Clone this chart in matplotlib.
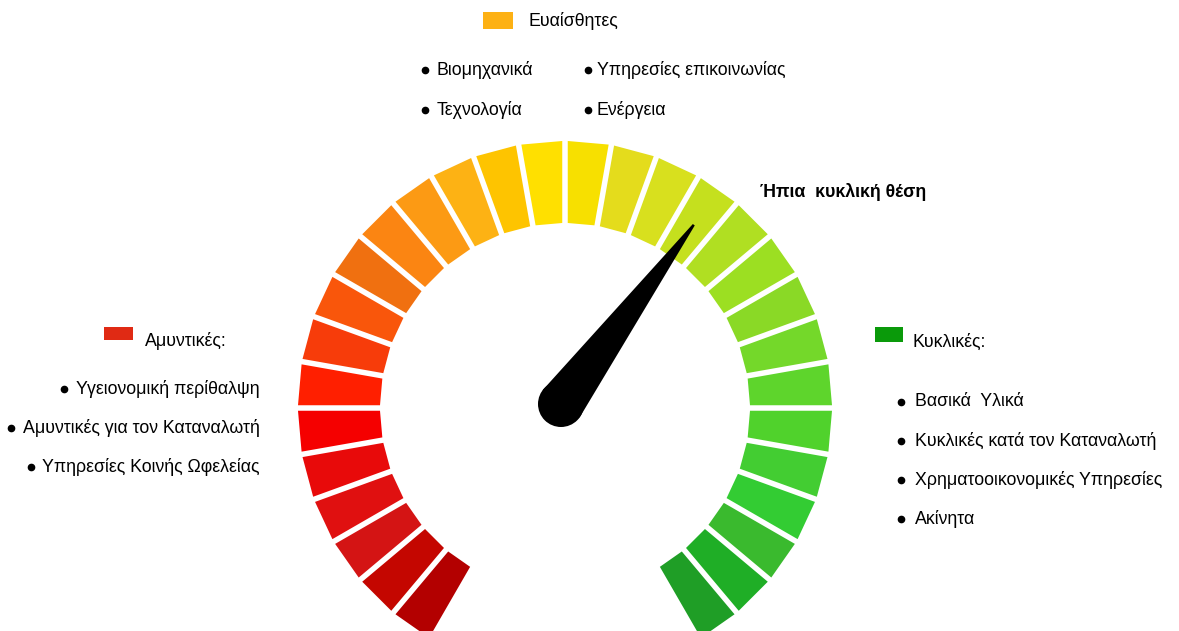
import numpy as np
import matplotlib
matplotlib.use("Agg")
import matplotlib.pyplot as plt
from matplotlib.patches import Polygon, Circle, Rectangle

plt.rcParams["font.family"] = ["Liberation Sans", "DejaVu Sans"]

# gauge segment colours, from the bottom-left end (defensive) round to bottom-right (cyclical)
segment_colors = [
    "#b30000", "#c40600", "#d41414", "#e01010", "#e80a0a", "#f50000",
    "#ff1f00", "#f73c0a", "#f9560b", "#f07010", "#fb8512", "#fc9a14",
    "#fdb214", "#fec400", "#ffe000", "#f7e000", "#e4dc1c", "#d8e01e",
    "#c5e01e", "#b0df22", "#9cdf22", "#8ad926", "#74d82a", "#5ed52c",
    "#50d22c", "#43cd32", "#33cc33", "#3aba2e", "#1fae26", "#1f9e26",
]
needle_value = 61.7  # position on a 0-100 scale (0 = defensive end)
needle_label = "Ήπια  κυκλική θέση"

sensitive_title = "Ευαίσθητες"
sensitive_left = ["Βιομηχανικά", "Τεχνολογία"]
sensitive_right = ["Υπηρεσίες επικοινωνίας", "Ενέργεια"]
defensive_title = "Αμυντικές:"
defensive_items = ["Υγειονομική περίθαλψη", "Αμυντικές για τον Καταναλωτή", "Υπηρεσίες Κοινής Ωφελείας"]
cyclical_title = "Κυκλικές:"
cyclical_items = ["Βασικά  Υλικά", "Κυκλικές κατά τον Καταναλωτή", "Χρηματοοικονομικές Υπηρεσίες", "Ακίνητα"]

W, H = 1179, 631
fig = plt.figure(figsize=(W / 100, H / 100), dpi=100)
ax = fig.add_axes([0, 0, 1, 1])
ax.set_xlim(0, W)
ax.set_ylim(H, 0)
ax.axis("off")

cx, cy = 565, 408
r_out, r_in = 267, 185
gap = 5.5
start_deg, span_deg = 240, 300
step = span_deg / len(segment_colors)


def corner(theta_deg, r, side):
    t = np.radians(theta_deg)
    u = np.array([np.cos(t), -np.sin(t)])
    n = np.array([np.sin(t), np.cos(t)])
    return np.array([cx, cy]) + r * u + side * gap / 2 * n


for i, col in enumerate(segment_colors):
    a0 = start_deg - i * step
    a1 = a0 - step
    pts = [corner(a0, r_in, 1), corner(a0, r_out, 1), corner(a1, r_out, -1), corner(a1, r_in, -1)]
    ax.add_patch(Polygon(pts, closed=True, facecolor=col, edgecolor="none"))

# needle
theta = np.radians(start_deg - span_deg * needle_value / 100)
tip = np.array([cx + 224 * np.cos(theta), cy - 224 * np.sin(theta)])
pivot = np.array([561, 404])
d = tip - pivot
d = d / np.linalg.norm(d)
perp = np.array([-d[1], d[0]])
pr = 23
needle = [pivot + perp * pr, tip + perp * 1.2, tip - perp * 1.2, pivot - perp * pr]
ax.add_patch(Polygon(needle, closed=True, facecolor="black", edgecolor="none"))
ax.add_patch(Circle(pivot, pr, facecolor="black", edgecolor="none"))

fs = 12.8
ax.text(760, 192, needle_label, fontsize=fs, fontweight="bold", va="center", ha="left")

# top group
ax.add_patch(Rectangle((483, 12), 30, 17, facecolor="#fdb114", edgecolor="none"))
ax.text(528, 21, sensitive_title, fontsize=fs, va="center", ha="left")
for j, (a, b) in enumerate(zip(sensitive_left, sensitive_right)):
    y = 70 + 40 * j
    ax.plot([425, 588], [y, y], "o", color="black", markersize=4.5, linestyle="none")
    ax.text(437, y, a, fontsize=fs, va="center", ha="left")
    ax.text(597, y, b, fontsize=fs, va="center", ha="left")

# left group
ax.add_patch(Rectangle((104, 327), 29, 13, facecolor="#e02a14", edgecolor="none"))
ax.text(145, 341, defensive_title, fontsize=fs, va="center", ha="left")
for j, lab in enumerate(defensive_items):
    y = 389 + 39 * j
    t = ax.text(260, y, lab, fontsize=fs, va="center", ha="right")
    fig.canvas.draw()
    bb = t.get_window_extent()
    ax.plot([bb.x0 - 12], [y], "o", color="black", markersize=4.5)

# right group
ax.add_patch(Rectangle((875, 327), 28, 15, facecolor="#0a9a0a", edgecolor="none"))
ax.text(913, 342, cyclical_title, fontsize=fs, va="center", ha="left")
for j, lab in enumerate(cyclical_items):
    y = 402 + 39 * j
    ax.plot([901], [y], "o", color="black", markersize=4.5)
    ax.text(915, y, lab, fontsize=fs, va="center", ha="left")

fig.savefig("out.png", dpi=100, facecolor="white")
